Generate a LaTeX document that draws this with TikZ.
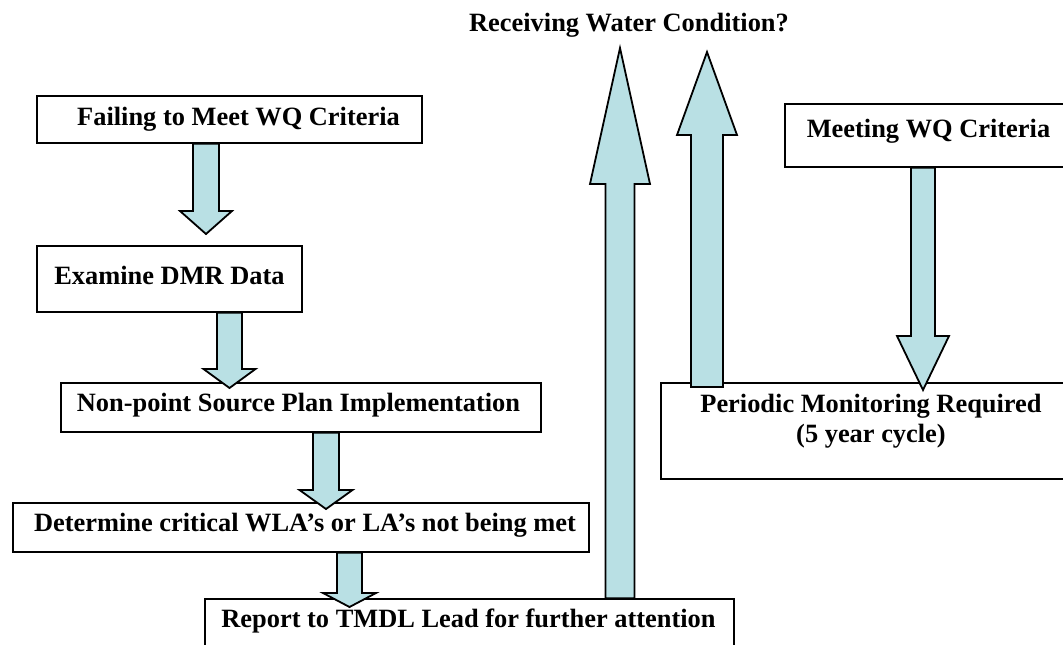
\documentclass[tikz,border=0pt]{standalone}
\usepackage{fontspec}
\setmainfont{Liberation Serif}
\usetikzlibrary{calc}
\definecolor{arrowfill}{RGB}{185,224,228}
\tikzset{
  box/.style={draw=black, line width=1.25pt, fill=white, inner sep=0pt},
  txt/.style={font=\fontsize{19.8pt}{22.5pt}\selectfont\bfseries, inner sep=0pt, align=center},
  barrow/.style={draw=black, line width=1.35pt, fill=arrowfill, line join=miter},
}
% #1 start, #2 tip, #3 shaft half width (px), #4 head half width (px), #5 head length (px, + for down, - for up)
\newcommand\varrow[5]{%
  \draw[barrow] let \p1=(#1), \p2=(#2) in
    (\x2-#3*0.75pt,\y1) -- (\x2-#3*0.75pt,\y2+#5*0.75pt) -- (\x2-#4*0.75pt,\y2+#5*0.75pt)
    -- (\x2,\y2) -- (\x2+#4*0.75pt,\y2+#5*0.75pt) -- (\x2+#3*0.75pt,\y2+#5*0.75pt)
    -- (\x2+#3*0.75pt,\y1) -- cycle;}
\begin{document}
\begin{tikzpicture}[x=0.75pt,y=-0.75pt]
\path[use as bounding box, clip] (0,0) rectangle (1063,644);
\fill[white] (0,0) rectangle (1063,644);

% boxes
\node[box, minimum width=288.75pt, minimum height=35.25pt,
  label={[txt, xshift=6.75pt]center:Failing to Meet WQ Criteria}] (fail) at (229.5,119.5) {};
\node[box, minimum width=198.75pt, minimum height=49.5pt,
  label={[txt, yshift=3pt]center:Examine DMR Data}] (exam) at (169.5,279) {};
\node[box, minimum width=360pt, minimum height=36.75pt,
  label={[txt, xshift=-1.9pt, yshift=1.9pt]center:Non-point Source Plan Implementation}] (nps) at (301,407.5) {};
\node[box, minimum width=432pt, minimum height=36.75pt,
  label={[txt, xshift=3pt, yshift=1.9pt]center:Determine critical WLA’s or LA’s not being met}] (det) at (301,527.5) {};
\node[box, minimum width=396.75pt, minimum height=45.75pt,
  label={[txt, xshift=-0.75pt, yshift=6pt]center:Report to TMDL Lead for further attention}] (report) at (469.5,629.5) {};
\node[box, minimum width=213.75pt, minimum height=47.25pt,
  label={[txt, xshift=0.75pt, yshift=3.4pt]center:Meeting WQ Criteria}] (meet) at (927.5,135.5) {};
\node[box, minimum width=306.75pt, minimum height=72pt,
  label={[txt, xshift=4.1pt, yshift=7pt]center:{Periodic Monitoring Required\\(5 year cycle)}}] (pm) at (865.5,431) {};

\node[txt] (title) at (629,25) {Receiving Water Condition?};

% arrow tips / free ends
\coordinate (t1) at (206,234);
\coordinate (t2) at (229.5,388);
\coordinate (t3) at (326,509);
\coordinate (t4) at (349.5,607);
\coordinate (t5) at (620,48);
\coordinate (t6) at (707,52);
\coordinate (s6) at (707,387);
\coordinate (t7) at (923,390);

\varrow{fail.south -| t1}{t1}{13}{26}{23}
\varrow{exam.south -| t2}{t2}{12.5}{26}{19}
\varrow{nps.south -| t3}{t3}{13}{26.5}{19}
\varrow{det.south -| t4}{t4}{12.5}{26.5}{14}
\varrow{report.north -| t5}{t5}{14.5}{30}{-136}
\varrow{s6}{t6}{16}{30}{-83}
\varrow{meet.south -| t7}{t7}{12}{26}{54}
\end{tikzpicture}
\end{document}
